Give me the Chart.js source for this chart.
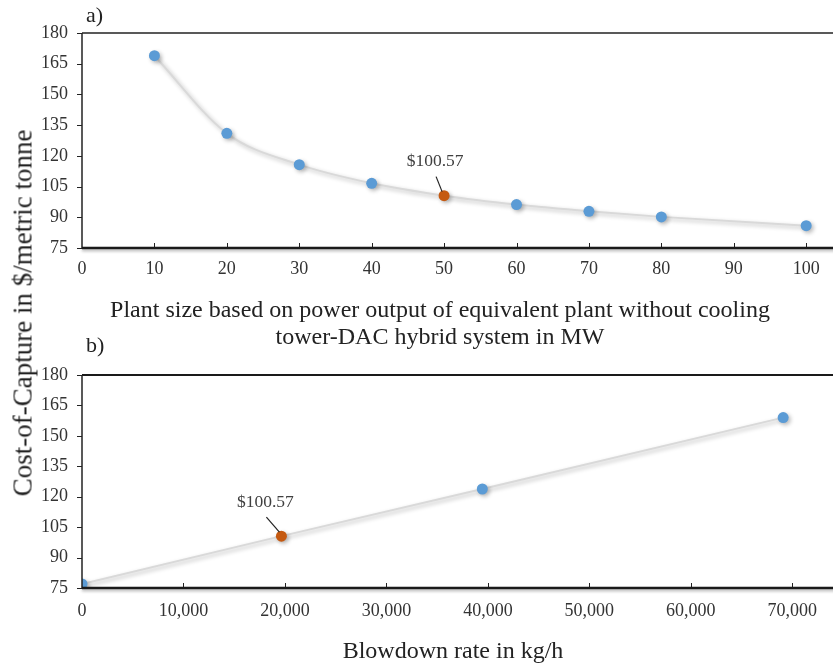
<!DOCTYPE html>
<html>
<head>
<meta charset="utf-8">
<script src="https://cdn.jsdelivr.net/npm/chart.js@4"></script>
<style>
  body { margin: 0; background: #fff; }
  #wrap { position: relative; width: 833px; height: 665px; overflow: hidden; font-family: "Liberation Serif", "Times New Roman", serif; color: #222; }
  canvas { position: absolute; left: 0; }
  .lbl { position: absolute; white-space: nowrap; font-size: 22px; line-height: 1; }
  .ttl { position: absolute; white-space: nowrap; font-size: 24px; line-height: 27px; text-align: center; transform: translateX(-50%); }
</style>
</head>
<body>
<div id="wrap">
  <canvas id="chartA" width="845" height="300" style="top:0"></canvas>
  <canvas id="chartB" width="845" height="315" style="top:350px"></canvas>
  <div class="lbl" style="left:86px; top:4px">a)</div>
  <div class="lbl" style="left:86px; top:334px">b)</div>
  <div class="ttl" style="left:440px; top:296px">Plant size based on power output of equivalent plant without cooling<br>tower-DAC hybrid system in MW</div>
  <div class="ttl" style="left:453px; top:637px">Blowdown rate in kg/h</div>
  <div class="lbl" style="left:23px; top:313px; font-size:27px; transform: translate(-50%,-50%) rotate(-90deg)">Cost-of-Capture in $/metric tonne</div>
</div>
<script>
// a) plant size (MW) vs cost of capture ($/t)
var plantSize = [10, 20, 30, 40, 50, 60, 70, 80, 100];
var plantCost = [168.9, 131.0, 115.7, 106.6, 100.57, 96.2, 92.9, 90.2, 85.9];

// b) blowdown rate (kg/h) vs cost of capture ($/t)
var blowdown = [0, 19650, 39450, 69100];
var blowdownCost = [77.0, 100.57, 123.8, 159.0];

// y ticks shared by both panels
var costTicks = [75, 90, 105, 120, 135, 150, 165, 180];
var plantTicks = [0, 10, 20, 30, 40, 50, 60, 70, 80, 90, 100];
var blowTicks = [0, 10000, 20000, 30000, 40000, 50000, 60000, 70000];

var baseCase = 100.57;
var blue = '#5B9BD5';
var orange = '#C55A11';
var tickFont = { family: 'Liberation Serif', size: 18 };

function pts(xs, ys) {
  return xs.map(function (x, i) { return { x: x, y: ys[i] }; });
}

function pointColors(ys) {
  return ys.map(function (v) { return v === baseCase ? orange : blue; });
}

// frame, tick marks, shadows and the $100.57 callout
var decor = {
  id: 'decor',
  beforeDatasetsDraw: function (chart) {
    var ctx = chart.ctx;
    ctx.save();
    ctx.shadowColor = 'rgba(0,0,0,0.28)';
    ctx.shadowBlur = 4;
    ctx.shadowOffsetX = 2;
    ctx.shadowOffsetY = 2;
  },
  afterDatasetsDraw: function (chart) {
    chart.ctx.restore();
  },
  afterDraw: function (chart) {
    var ctx = chart.ctx, a = chart.chartArea;
    var xs = chart.scales.x, ys = chart.scales.y;
    var opt = chart.options.plugins.decor;
    ctx.save();
    // top border
    ctx.strokeStyle = opt.topColor;
    ctx.lineWidth = 2;
    ctx.beginPath();
    ctx.moveTo(a.left, a.top);
    ctx.lineTo(a.right, a.top);
    ctx.stroke();
    // left axis
    ctx.strokeStyle = '#222';
    ctx.lineWidth = 1.5;
    ctx.beginPath();
    ctx.moveTo(a.left, a.top);
    ctx.lineTo(a.left, a.bottom);
    ctx.stroke();
    // y tick marks (outside)
    ctx.lineWidth = 1;
    ys.ticks.forEach(function (t) {
      var y = Math.round(ys.getPixelForValue(t.value)) + 0.5;
      ctx.beginPath();
      ctx.moveTo(a.left - 5, y);
      ctx.lineTo(a.left, y);
      ctx.stroke();
    });
    // x tick marks (inside)
    xs.ticks.forEach(function (t) {
      if (t.value === 0) return;
      var x = Math.round(xs.getPixelForValue(t.value)) + 0.5;
      ctx.beginPath();
      ctx.moveTo(x, a.bottom);
      ctx.lineTo(x, a.bottom - 5);
      ctx.stroke();
    });
    // bottom axis with shadow
    ctx.shadowColor = 'rgba(0,0,0,0.3)';
    ctx.shadowBlur = 3;
    ctx.shadowOffsetY = 2;
    ctx.strokeStyle = '#1a1a1a';
    ctx.lineWidth = 2.5;
    ctx.beginPath();
    ctx.moveTo(a.left, a.bottom);
    ctx.lineTo(a.right, a.bottom);
    ctx.stroke();
    ctx.shadowColor = 'transparent';
    // callout
    var ds = chart.data.datasets[0].data;
    ds.forEach(function (p) {
      if (p.y !== baseCase) return;
      var px = xs.getPixelForValue(p.x), py = ys.getPixelForValue(p.y);
      ctx.strokeStyle = '#222';
      ctx.lineWidth = 1.2;
      ctx.beginPath();
      ctx.moveTo(px - 2, py - 4);
      ctx.lineTo(px + opt.dx + 1, py - 19);
      ctx.stroke();
      ctx.fillStyle = '#404040';
      ctx.font = '17.5px "Liberation Serif"';
      ctx.textAlign = 'center';
      ctx.textBaseline = 'middle';
      ctx.fillText('$' + baseCase.toFixed(2), px + opt.dx, py - 34);
    });
    ctx.restore();
  }
};

function makeChart(id, xs, ys, xTicks, xMax, topPad, xHeight, labelPad, tension, topColor, dx, fmt) {
  return new Chart(document.getElementById(id), {
    type: 'line',
    data: {
      datasets: [{
        data: pts(xs, ys),
        borderColor: '#d9d9d9',
        borderWidth: 2,
        tension: tension,
        cubicInterpolationMode: tension ? 'monotone' : 'default',
        pointRadius: 5.5,
        pointBorderWidth: 0,
        pointBackgroundColor: pointColors(ys),
        pointBorderColor: pointColors(ys)
      }]
    },
    options: {
      responsive: false,
      animation: false,
      layout: { padding: { top: topPad, left: 0, right: 0, bottom: 0 } },
      plugins: {
        legend: { display: false },
        tooltip: { enabled: false },
        decor: { topColor: topColor, dx: dx }
      },
      scales: {
        x: {
          type: 'linear',
          min: 0,
          max: xMax,
          grid: { display: false, drawTicks: false },
          border: { display: false },
          afterBuildTicks: function (s) {
            s.ticks = xTicks.map(function (v) { return { value: v }; });
          },
          afterFit: function (s) {
            s.height = xHeight;
            s.paddingLeft = 0;
            s.paddingRight = 0;
          },
          ticks: {
            padding: labelPad,
            maxRotation: 0,
            autoSkip: false,
            color: '#333',
            font: tickFont,
            callback: fmt
          }
        },
        y: {
          min: 75,
          max: 180,
          grid: { display: false, drawTicks: false },
          border: { display: false },
          afterBuildTicks: function (s) {
            s.ticks = costTicks.map(function (v) { return { value: v }; });
          },
          afterFit: function (s) { s.width = 82; },
          ticks: { padding: 14, color: '#333', font: tickFont }
        }
      }
    },
    plugins: [decor]
  });
}

makeChart('chartA', plantSize, plantCost, plantTicks, 104.6, 33, 52, 10, 0.4, '#595959', -9,
  function (v) { return v; });
makeChart('chartB', blowdown, blowdownCost, blowTicks, 74650, 25, 77, 12, 0, '#1a1a1a', -16,
  function (v) { return v.toLocaleString('en-US'); });
</script>
</body>
</html>
